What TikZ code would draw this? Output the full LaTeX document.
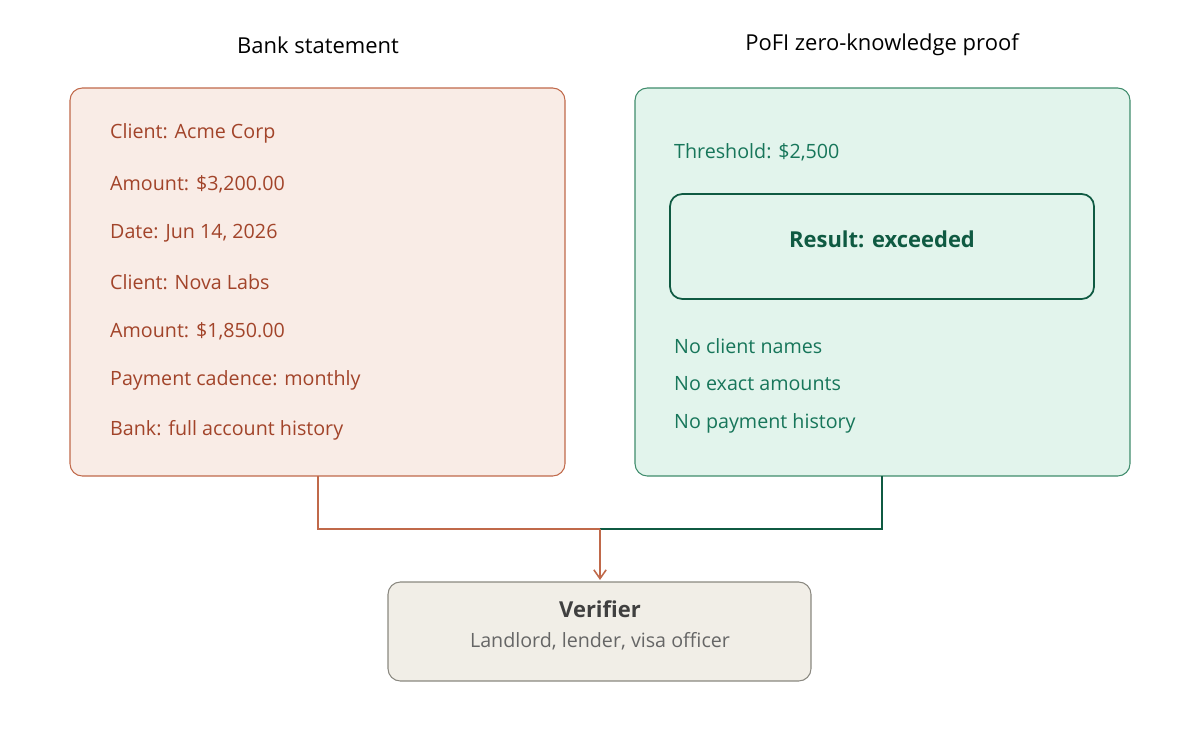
\documentclass[tikz,border=0pt]{standalone}
\usepackage{fontspec}
\setmainfont{Open Sans}
\usetikzlibrary{arrows.meta}
\definecolor{orfill}{HTML}{F9ECE6}
\definecolor{ordraw}{HTML}{C0694A}
\definecolor{ortext}{HTML}{A2442A}
\definecolor{grfill}{HTML}{E2F4EC}
\definecolor{grdraw}{HTML}{3F8C6C}
\definecolor{grtext}{HTML}{17765A}
\definecolor{grdark}{HTML}{0F5A42}
\definecolor{vfill}{HTML}{F1EEE7}
\definecolor{vdraw}{HTML}{8A8880}
\begin{document}
\begin{tikzpicture}[x=0.02cm,y=-0.02cm,
  title/.style={font=\fontsize{12.5}{14}\selectfont\bfseries\mdseries, text=black},
  ol/.style={anchor=west,text=ortext,font=\fontsize{11.2}{13}\selectfont},
  gl/.style={anchor=west,text=grtext,font=\fontsize{11.2}{13}\selectfont},
  box/.style={rounded corners=7pt,line width=0.6pt}]
\useasboundingbox (0,0) rectangle (1200,741);
\node[title] (t1) at (318,45) {Bank statement};
\node[title] (t2) at (882,45) {PoFI zero-knowledge proof};
\draw[box,fill=orfill,draw=ordraw] (70,88) rectangle (565,476);
\node[ol] (a1) at (104,133) {Client: Acme Corp};
\node[ol] (a2) at (104,184) {Amount: \$3,200.00};
\node[ol] (a3) at (104,233) {Date: Jun 14, 2026};
\node[ol] (a4) at (104,282) {Client: Nova Labs};
\node[ol] (a5) at (104,331) {Amount: \$1,850.00};
\node[ol] (a6) at (104,380) {Payment cadence: monthly};
\node[ol] (a7) at (104,430) {Bank: full account history};
\draw[box,fill=grfill,draw=grdraw] (635,88) rectangle (1130,476);
\node[gl] (b1) at (668,152) {Threshold: \$2,500};
\draw[box,draw=grdark,line width=1pt] (670,194) rectangle (1094,299);
\node[text=grdark,font=\fontsize{12.5}{14}\selectfont\bfseries] (res) at (882,239) {Result: exceeded};
\node[gl] (b2) at (668,346) {No client names};
\node[gl] (b3) at (668,384) {No exact amounts};
\node[gl] (b4) at (668,423) {No payment history};
\draw[box,fill=vfill,draw=vdraw] (388,582) rectangle (811,681);
\node[font=\fontsize{12.5}{14}\selectfont\bfseries,text=black!75] (v1) at (600,609) {Verifier};
\node[font=\fontsize{11.2}{13}\selectfont,text=black!60] (v2) at (600,641) {Landlord, lender, visa officer};
\coordinate (ls) at (318,476);
\coordinate (rs) at (882,476);
\coordinate (m) at (600,529);
\coordinate (ve) at (600,580);
\draw[grdark,line width=0.9pt] (rs) |- (m);
\draw[ordraw,line width=0.9pt] (ls) |- (m);
\draw[ordraw,line width=0.9pt,-{Straight Barb[length=5pt,width=7pt]}] (m) -- (ve);
\end{tikzpicture}
\end{document}
